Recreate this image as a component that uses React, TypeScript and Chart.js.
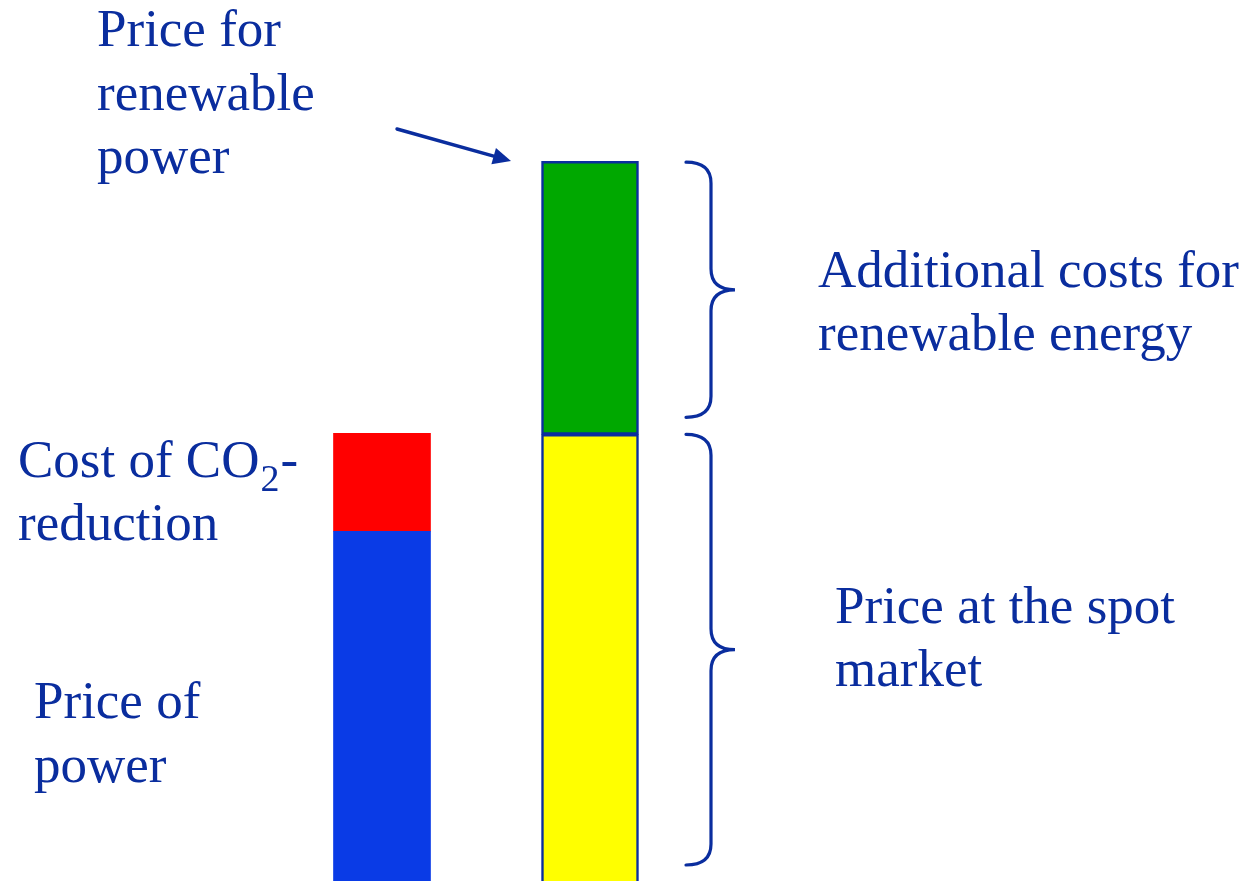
import React, { useEffect, useRef } from "react";
import { Chart, registerables } from "chart.js";

Chart.register(...registerables);

// ---- data (arbitrary price units) ----
const categories = ["Conventional power", "Renewable power"];
const basePrice = [39.7, 50.7]; // price of power / price at the spot market
const extraCost = [11.1, 31.0]; // cost of CO2-reduction / additional costs for renewables
const baseColors = ["#0a3be6", "#ffff00"];
const extraColors = ["#ff0000", "#00a800"];

const TEXT = "#0a2d9e";
const FONT = '"Liberation Serif", "Times New Roman", serif';

function drawBrace(ctx: CanvasRenderingContext2D, xL: number, yT: number, yB: number, xTip: number) {
  const xv = xL + 25;
  const ym = (yT + yB) / 2;
  const r = 21;
  ctx.beginPath();
  ctx.moveTo(xL, yT);
  ctx.quadraticCurveTo(xv, yT, xv, yT + r);
  ctx.lineTo(xv, ym - r);
  ctx.quadraticCurveTo(xv, ym, xTip, ym);
  ctx.quadraticCurveTo(xv, ym, xv, ym + r);
  ctx.lineTo(xv, yB - r);
  ctx.quadraticCurveTo(xv, yB, xL, yB);
  ctx.stroke();
}

const annotationPlugin = {
  id: "annotations",
  afterDraw(chart: any) {
    const ctx: CanvasRenderingContext2D = chart.ctx;
    const y = chart.scales.y;
    const greenTop = y.getPixelForValue(basePrice[1] + extraCost[1]);
    const yellowTop = y.getPixelForValue(basePrice[1]);
    ctx.save();
    ctx.fillStyle = TEXT;
    ctx.strokeStyle = TEXT;
    ctx.textBaseline = "alphabetic";
    ctx.textAlign = "left";
    ctx.font = `53px ${FONT}`;
    const put = (t: string, x: number, yy: number) => ctx.fillText(t, x, yy);
    put("Price for", 97, 46);
    put("renewable", 97, 110);
    put("power", 97, 173);
    put("Additional costs for", 818, 287);
    put("renewable energy", 818, 350);
    put("Price at the spot", 835, 623);
    put("market", 835, 686);
    put("Price of", 34, 718);
    put("power", 34, 782);
    // Cost of CO2-
    const s1 = "Cost of CO";
    put(s1, 18, 477);
    const w = ctx.measureText(s1).width;
    ctx.font = `38px ${FONT}`;
    put("2", 18 + w + 1, 491);
    const w2 = ctx.measureText("2").width;
    ctx.font = `53px ${FONT}`;
    put("-", 18 + w + w2 + 2, 477);
    put("reduction", 18, 540);

    // braces
    ctx.lineWidth = 3.2;
    ctx.lineCap = "round";
    drawBrace(ctx, 686, greenTop + 1, yellowTop - 17, 735);
    drawBrace(ctx, 686, yellowTop, 865, 735);

    // arrow
    const x0 = 397, y0 = 129, x1 = 511, y1 = 161;
    const ang = Math.atan2(y1 - y0, x1 - x0);
    const hl = 18, hw = 8.5;
    ctx.lineWidth = 3.4;
    ctx.beginPath();
    ctx.moveTo(x0, y0);
    ctx.lineTo(x1 - hl * Math.cos(ang), y1 - hl * Math.sin(ang));
    ctx.stroke();
    const bx = x1 - hl * Math.cos(ang), by = y1 - hl * Math.sin(ang);
    ctx.beginPath();
    ctx.moveTo(x1, y1);
    ctx.lineTo(bx + hw * Math.sin(ang), by - hw * Math.cos(ang));
    ctx.lineTo(bx - hw * Math.sin(ang), by + hw * Math.cos(ang));
    ctx.closePath();
    ctx.fill();
    ctx.restore();
  },
};

export default function App() {
  const ref = useRef<HTMLCanvasElement | null>(null);
  useEffect(() => {
    if (!ref.current) return;
    const bw = (c: any) => (c.dataIndex === 1 ? 2.5 : 0);
    const bc = (c: any) => (c.dataIndex === 1 ? TEXT : "rgba(0,0,0,0)");
    const chart = new Chart(ref.current, {
      type: "bar",
      data: {
        labels: categories,
        datasets: [
          {
            label: "Base price",
            data: basePrice,
            backgroundColor: baseColors,
            borderColor: bc,
            borderWidth: bw,
            borderSkipped: "start",
            barThickness: 97,
          },
          {
            label: "Additional cost",
            data: extraCost,
            backgroundColor: extraColors,
            borderColor: bc,
            borderWidth: bw,
            borderSkipped: false,
            barThickness: 97,
          },
        ],
      },
      options: {
        animation: false,
        responsive: false,
        devicePixelRatio: 1,
        layout: { padding: { left: 278, right: 555, top: 0, bottom: 0 } },
        plugins: { legend: { display: false }, tooltip: { enabled: false } },
        scales: {
          x: { stacked: true, display: false },
          y: { stacked: true, display: false, min: 0, max: 100 },
        },
      },
      plugins: [annotationPlugin],
    });
    return () => chart.destroy();
  }, []);
  return (
    <div style={{ position: "absolute", left: 0, top: 0, width: 1249, height: 881, background: "#fff" }}>
      <canvas ref={ref} width={1249} height={881} style={{ display: "block" }} />
    </div>
  );
}
